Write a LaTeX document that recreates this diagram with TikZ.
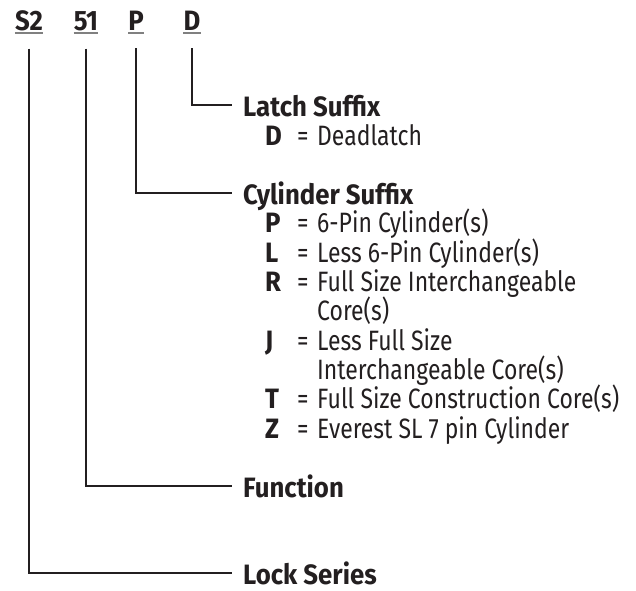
\documentclass[tikz,border=0pt]{standalone}
\usepackage{fontspec}
\setmainfont{Fira Sans}[FakeStretch=0.82, BoldFeatures={FakeStretch=0.92}]
\usepackage{tikz}
\definecolor{ink}{HTML}{231F20}
\definecolor{rulegray}{HTML}{808080}
\newcommand\bigtext{\fontsize{28}{29.3}\selectfont\lineskiplimit=-\maxdimen}
\newcommand\keyentry[2]{\makebox[32pt][l]{\bfseries #1}\makebox[20pt][l]{=}#2}
\newcommand\moreentry[1]{\hspace*{52pt}#1}

\begin{document}
\begin{tikzpicture}[x=1pt, y=-1pt, every node/.style={inner sep=0pt, text=ink, font=\bigtext},
  code/.style={font=\bigtext\bfseries, anchor=base},
  head/.style={font=\bigtext\bfseries, anchor=base west, text height=22pt, text depth=0pt},
  list/.style={anchor=base west, align=left},
  link/.style={draw=ink, line width=2pt, shorten <=18pt, shorten >=11pt}]
\useasboundingbox (0,0) rectangle (636,590);

\node (series code) [code] at (29,30) {S2};
\node (function code) [code] at (86,30) {51};
\node (cylinder code) [code] at (136,30) {P};
\node (latch code) [code] at (192,30) {D};
\foreach \c in {series code, function code, cylinder code, latch code}
  \draw [rulegray, line width=2pt] ([yshift=-2.5pt]\c.south west) -- ([yshift=-2.5pt]\c.south east);

\node (latch suffix) [head] at (243,116) {Latch Suffix};
\node (latch list) [list] at (265,145) {\keyentry{D}{Deadlatch}};

% the list node sits on the baseline of its last line
\node (cylinder suffix) [head] at (243,204) {Cylinder Suffix};
\node (cylinder list) [list] at (265,438) {\keyentry{P}{6-Pin Cylinder(s)}\\
\keyentry{L}{Less 6-Pin Cylinder(s)}\\
\keyentry{R}{Full Size Interchangeable}\\
\moreentry{Core(s)}\\
\keyentry{J}{Less Full Size}\\
\moreentry{Interchangeable Core(s)}\\
\keyentry{T}{Full Size Construction Core(s)}\\
\keyentry{Z}{Everest SL 7 pin Cylinder}};

\node (function) [head] at (243,497) {Function};
\node (lock series) [head] at (243,584) {Lock Series};

\draw [link] (latch code.south) |- (latch suffix.west);
\draw [link] (cylinder code.south) |- (cylinder suffix.west);
\draw [link] (function code.south) |- (function.west);
\draw [link] (series code.south) |- (lock series.west);

\end{tikzpicture}
\end{document}
